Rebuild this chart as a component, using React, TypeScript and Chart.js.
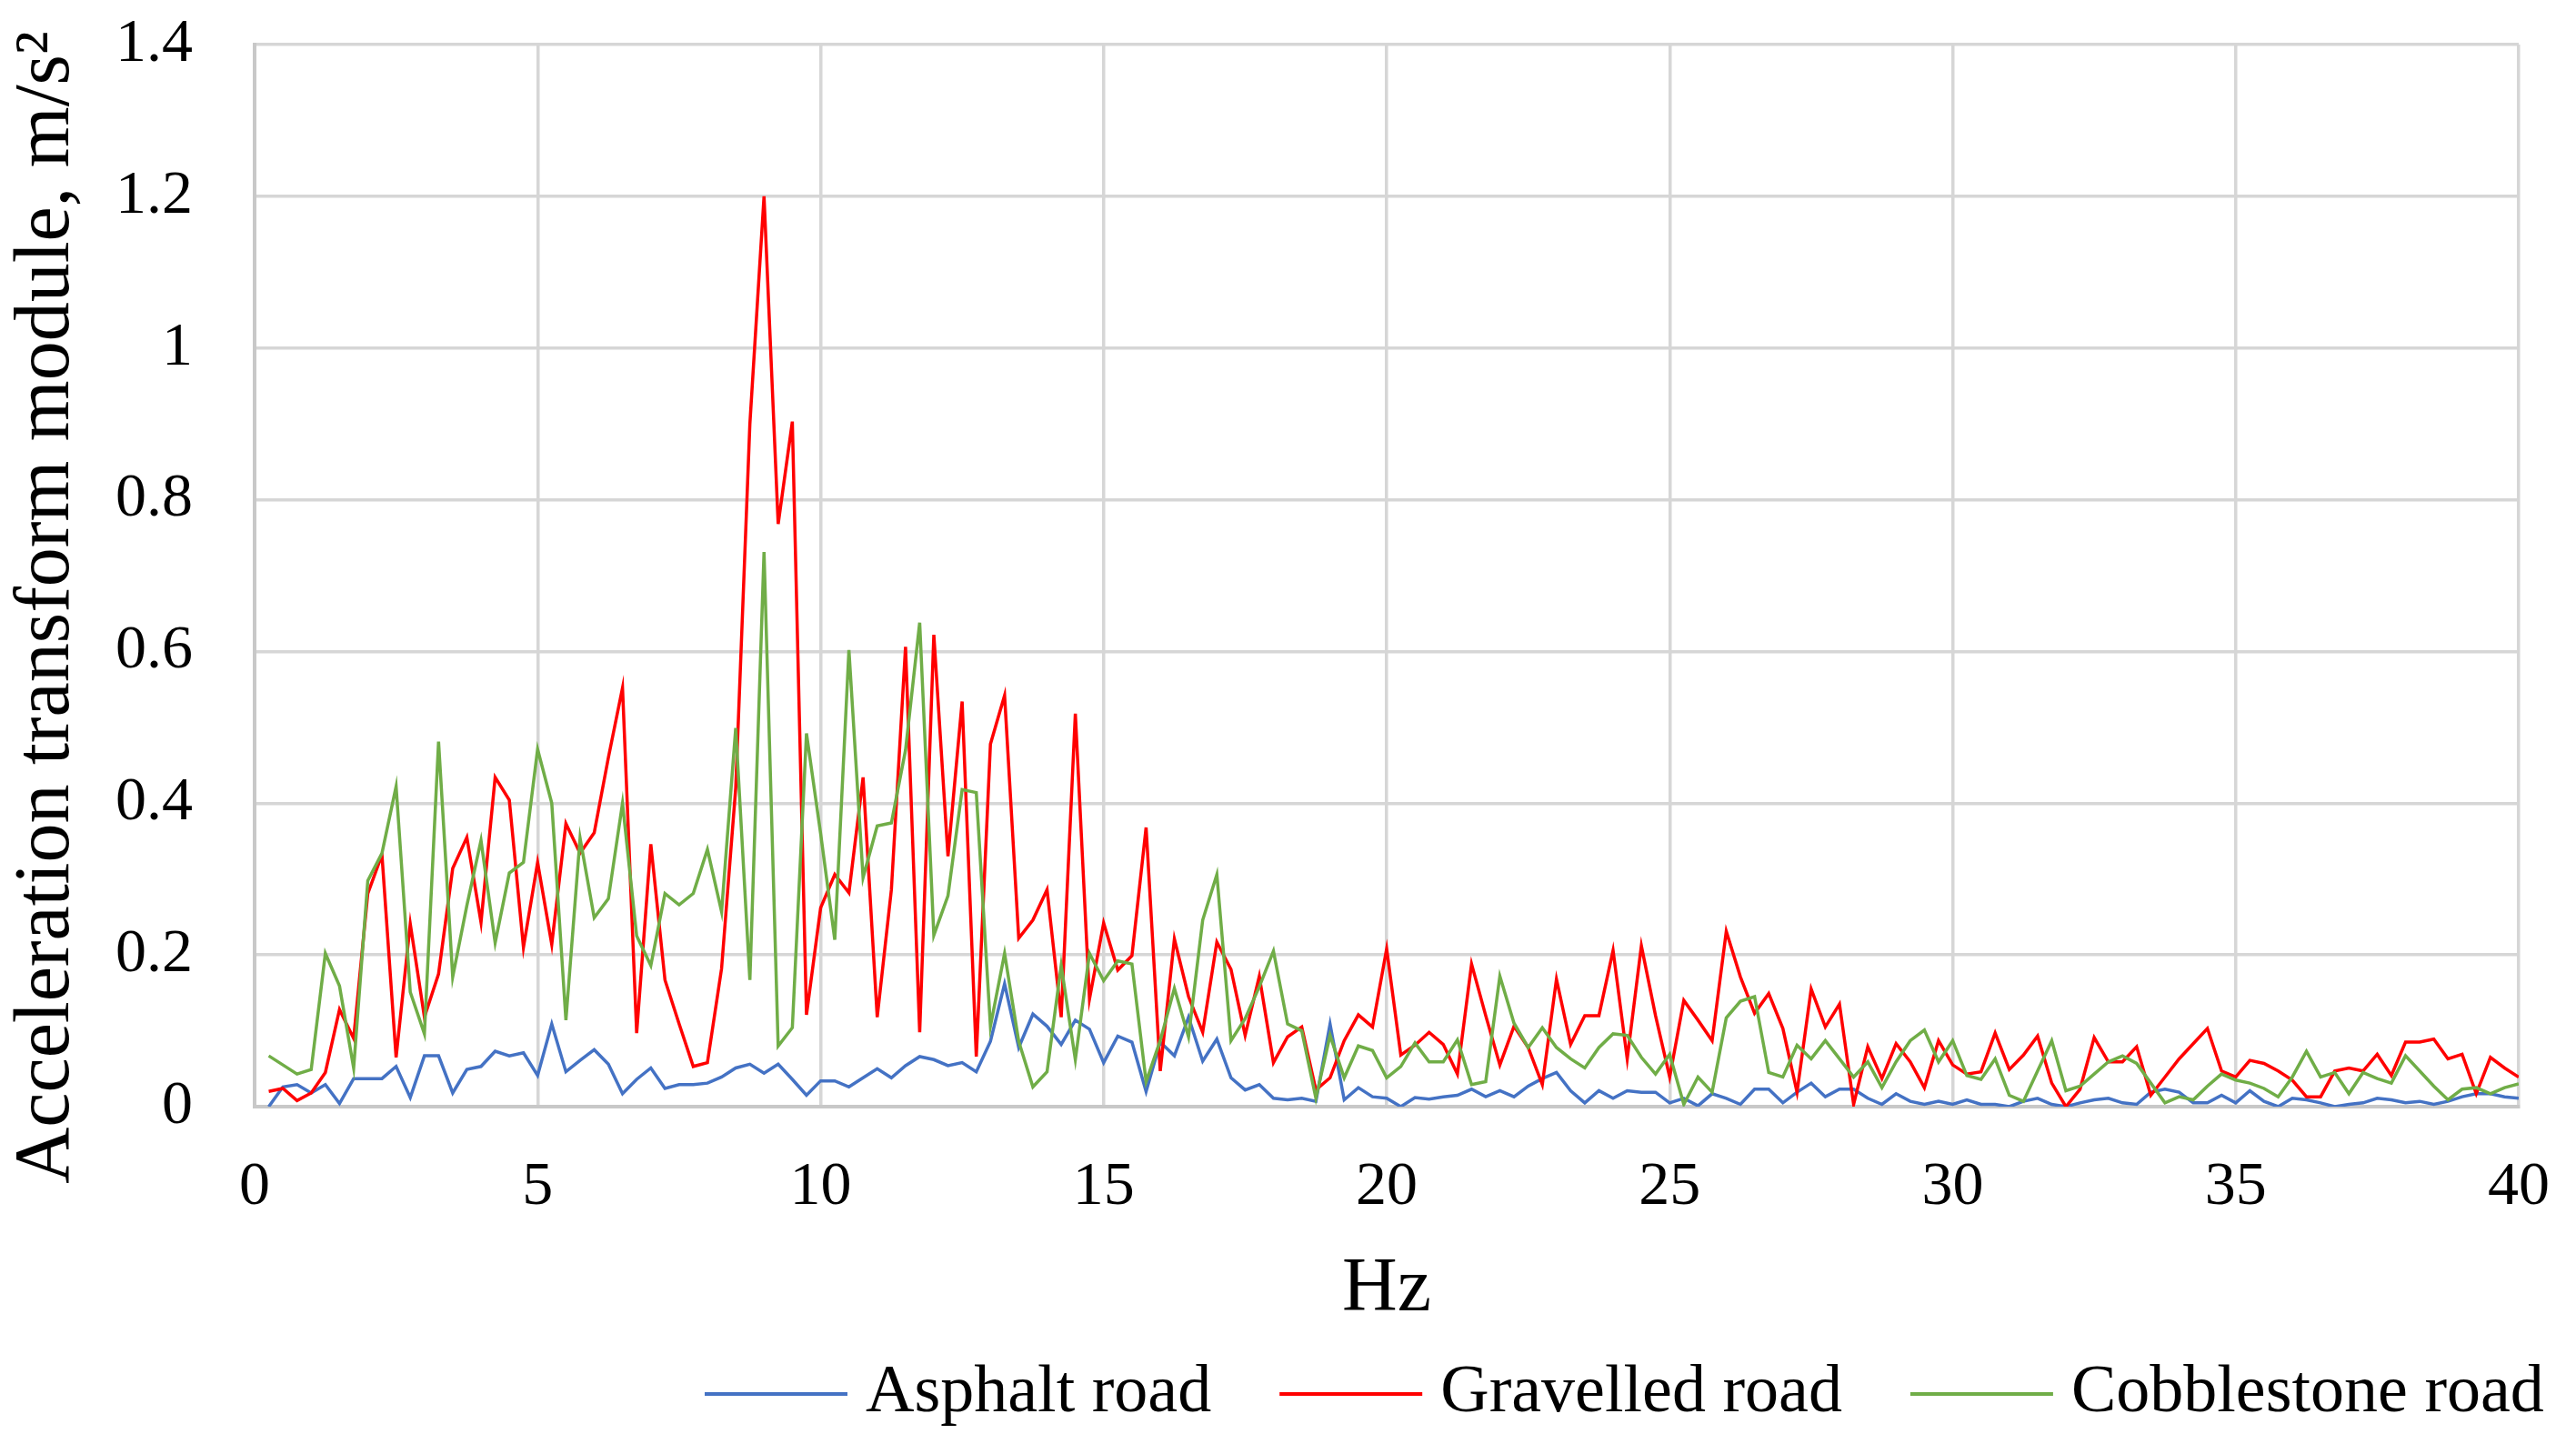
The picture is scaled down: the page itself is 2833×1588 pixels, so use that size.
import React, { useEffect, useRef } from 'react';
import { Chart, registerables } from 'chart.js';

Chart.register(...registerables);

// ---------- data ----------
const FREQUENCIES_HZ = [
  0.25, 0.5, 0.75, 1, 1.25, 1.5, 1.75, 2, 2.25, 2.5, 2.75, 3, 3.25, 3.5, 3.75, 4, 4.25, 4.5, 4.75, 5,
  5.25, 5.5, 5.75, 6, 6.25, 6.5, 6.75, 7, 7.25, 7.5, 7.75, 8, 8.25, 8.5, 8.75, 9, 9.25, 9.5, 9.75, 10,
  10.25, 10.5, 10.75, 11, 11.25, 11.5, 11.75, 12, 12.25, 12.5, 12.75, 13, 13.25, 13.5, 13.75, 14, 14.25, 14.5, 14.75, 15,
  15.25, 15.5, 15.75, 16, 16.25, 16.5, 16.75, 17, 17.25, 17.5, 17.75, 18, 18.25, 18.5, 18.75, 19, 19.25, 19.5, 19.75, 20,
  20.25, 20.5, 20.75, 21, 21.25, 21.5, 21.75, 22, 22.25, 22.5, 22.75, 23, 23.25, 23.5, 23.75, 24, 24.25, 24.5, 24.75, 25,
  25.25, 25.5, 25.75, 26, 26.25, 26.5, 26.75, 27, 27.25, 27.5, 27.75, 28, 28.25, 28.5, 28.75, 29, 29.25, 29.5, 29.75, 30,
  30.25, 30.5, 30.75, 31, 31.25, 31.5, 31.75, 32, 32.25, 32.5, 32.75, 33, 33.25, 33.5, 33.75, 34, 34.25, 34.5, 34.75, 35,
  35.25, 35.5, 35.75, 36, 36.25, 36.5, 36.75, 37, 37.25, 37.5, 37.75, 38, 38.25, 38.5, 38.75, 39, 39.25, 39.5, 39.75, 40,
];

const ASPHALT_ROAD = [
  0.0, 0.026, 0.029, 0.018, 0.029, 0.004, 0.037, 0.037, 0.037, 0.053, 0.012, 0.067, 0.067, 0.018, 0.049, 0.053, 0.073, 0.067, 0.071, 0.041,
  0.109, 0.046, 0.061, 0.075, 0.056, 0.017, 0.036, 0.051, 0.024, 0.029, 0.029, 0.031, 0.039, 0.051, 0.056, 0.044, 0.056, 0.036, 0.015, 0.034,
  0.034, 0.026, 0.038, 0.05, 0.038, 0.054, 0.066, 0.062, 0.054, 0.058, 0.046, 0.086, 0.162, 0.078, 0.122, 0.106, 0.082, 0.114, 0.102, 0.058,
  0.093, 0.085, 0.02, 0.085, 0.067, 0.118, 0.06, 0.089, 0.038, 0.022, 0.029, 0.011, 0.009, 0.011, 0.007, 0.109, 0.009, 0.025, 0.013, 0.011,
  0.0, 0.012, 0.01, 0.013, 0.015, 0.023, 0.013, 0.021, 0.013, 0.027, 0.037, 0.045, 0.021, 0.005, 0.021, 0.011, 0.021, 0.019, 0.019, 0.005,
  0.011, 0.001, 0.017, 0.011, 0.003, 0.023, 0.023, 0.005, 0.019, 0.031, 0.013, 0.023, 0.023, 0.011, 0.003, 0.017, 0.007, 0.003, 0.007, 0.003,
  0.009, 0.003, 0.003, 0.0, 0.007, 0.011, 0.003, 0.0, 0.005, 0.009, 0.011, 0.005, 0.003, 0.019, 0.023, 0.019, 0.005, 0.005, 0.015, 0.005,
  0.021, 0.007, 0.0, 0.011, 0.009, 0.005, 0.0, 0.003, 0.005, 0.011, 0.009, 0.005, 0.007, 0.003, 0.007, 0.013, 0.017, 0.017, 0.013, 0.011,
];

const GRAVELLED_ROAD = [
  0.02, 0.024, 0.008, 0.018, 0.045, 0.128, 0.09, 0.281, 0.332, 0.065, 0.241, 0.118, 0.175, 0.314, 0.355, 0.243, 0.434, 0.404, 0.21, 0.322,
  0.214, 0.373, 0.334, 0.361, 0.46, 0.552, 0.097, 0.346, 0.167, 0.109, 0.053, 0.058, 0.182, 0.42, 0.9, 1.2, 0.768, 0.903, 0.121, 0.262,
  0.306, 0.282, 0.434, 0.118, 0.286, 0.606, 0.098, 0.622, 0.33, 0.534, 0.066, 0.478, 0.542, 0.222, 0.246, 0.286, 0.118, 0.518, 0.142, 0.242,
  0.18, 0.199, 0.368, 0.047, 0.221, 0.145, 0.098, 0.217, 0.181, 0.094, 0.172, 0.058, 0.092, 0.105, 0.022, 0.038, 0.087, 0.121, 0.105, 0.208,
  0.068, 0.081, 0.098, 0.082, 0.043, 0.188, 0.12, 0.055, 0.106, 0.078, 0.029, 0.168, 0.082, 0.12, 0.12, 0.206, 0.063, 0.212, 0.12, 0.039,
  0.14, 0.114, 0.087, 0.231, 0.171, 0.123, 0.149, 0.103, 0.019, 0.155, 0.105, 0.135, 0.003, 0.079, 0.037, 0.083, 0.059, 0.025, 0.087, 0.055,
  0.043, 0.046, 0.097, 0.049, 0.068, 0.093, 0.031, 0.0, 0.023, 0.091, 0.059, 0.059, 0.079, 0.015, 0.039, 0.063, 0.083, 0.103, 0.047, 0.039,
  0.061, 0.057, 0.047, 0.035, 0.013, 0.013, 0.047, 0.051, 0.047, 0.069, 0.041, 0.085, 0.085, 0.089, 0.063, 0.069, 0.017, 0.065, 0.051, 0.039,
];

const COBBLESTONE_ROAD = [
  0.067, 0.055, 0.043, 0.049, 0.202, 0.159, 0.051, 0.298, 0.334, 0.422, 0.151, 0.096, 0.481, 0.171, 0.265, 0.351, 0.216, 0.308, 0.322, 0.471,
  0.4, 0.114, 0.354, 0.249, 0.274, 0.4, 0.225, 0.186, 0.281, 0.266, 0.281, 0.339, 0.257, 0.499, 0.167, 0.731, 0.08, 0.104, 0.492, 0.36,
  0.22, 0.602, 0.302, 0.37, 0.374, 0.47, 0.638, 0.226, 0.278, 0.418, 0.414, 0.106, 0.202, 0.086, 0.026, 0.046, 0.186, 0.062, 0.202, 0.166,
  0.192, 0.188, 0.033, 0.087, 0.156, 0.092, 0.246, 0.306, 0.087, 0.116, 0.158, 0.205, 0.109, 0.1, 0.011, 0.094, 0.038, 0.08, 0.074, 0.038,
  0.053, 0.084, 0.059, 0.059, 0.088, 0.029, 0.033, 0.172, 0.11, 0.078, 0.104, 0.078, 0.063, 0.051, 0.078, 0.096, 0.094, 0.065, 0.043, 0.069,
  0.003, 0.039, 0.019, 0.117, 0.139, 0.145, 0.045, 0.039, 0.081, 0.063, 0.087, 0.063, 0.039, 0.059, 0.025, 0.059, 0.087, 0.101, 0.059, 0.087,
  0.041, 0.036, 0.063, 0.015, 0.007, 0.047, 0.087, 0.021, 0.027, 0.043, 0.059, 0.067, 0.057, 0.031, 0.005, 0.013, 0.009, 0.027, 0.043, 0.035,
  0.031, 0.024, 0.013, 0.039, 0.073, 0.039, 0.045, 0.017, 0.045, 0.037, 0.031, 0.067, 0.047, 0.027, 0.009, 0.023, 0.025, 0.017, 0.025, 0.03,
];

const SERIES_NAMES = ['Asphalt road', 'Gravelled road', 'Cobblestone road'];
const SERIES_COLORS = ['#4472C4', '#FF0000', '#70AD47'];
const X_TITLE = 'Hz';
const Y_TITLE = 'Acceleration transform module, m/s\u00B2';
const X_MIN = 0;
const X_MAX = 40;
const X_STEP = 5;
const Y_MIN = 0;
const Y_MAX = 1.4;
const Y_STEP = 0.2;

// ---------- layout / style ----------
const W = 2833;
const H = 1588;
const FONT = "'Liberation Serif', 'Times New Roman', Times, serif";
const PLOT_LEFT = 280;
const PLOT_RIGHT = 2770;
const PLOT_TOP = 49;
const PLOT_BOTTOM = 1217;
const X_AXIS_HEIGHT = 252;
const GRID_COLOR = '#d6d6d6';

const decorPlugin = {
  id: 'refDecor',
  afterDraw(chart: any) {
    const ctx = chart.ctx as CanvasRenderingContext2D;
    // y-axis title
    ctx.save();
    ctx.font = `86px ${FONT}`;
    ctx.fillStyle = '#000';
    ctx.textAlign = 'center';
    ctx.textBaseline = 'middle';
    ctx.translate(52, 668);
    ctx.rotate(-Math.PI / 2);
    ctx.fillText(Y_TITLE, 0, 0);
    ctx.restore();

    // legend
    ctx.save();
    ctx.font = `74px ${FONT}`;
    ctx.fillStyle = '#000';
    ctx.textAlign = 'left';
    ctx.textBaseline = 'middle';
    const y = 1533;
    const lineLen = 157;
    const textGap = 20;
    const itemGap = 75;
    let x = 775;
    SERIES_NAMES.forEach((name, i) => {
      ctx.strokeStyle = SERIES_COLORS[i];
      ctx.lineWidth = 4;
      ctx.beginPath();
      ctx.moveTo(x, y);
      ctx.lineTo(x + lineLen, y);
      ctx.stroke();
      const tx = x + lineLen + textGap;
      ctx.fillText(name, tx, y);
      x = tx + ctx.measureText(name).width + itemGap;
    });
    ctx.restore();
  },
};

export default function App() {
  const canvasRef = useRef<HTMLCanvasElement | null>(null);

  useEffect(() => {
    const canvas = canvasRef.current;
    if (!canvas) return;
    const seriesValues = [ASPHALT_ROAD, GRAVELLED_ROAD, COBBLESTONE_ROAD];
    const chart = new Chart(canvas, {
      type: 'line',
      data: {
        datasets: seriesValues.map((vals, s) => ({
          label: SERIES_NAMES[s],
          data: vals.map((v, i) => ({ x: FREQUENCIES_HZ[i], y: v })),
          borderColor: SERIES_COLORS[s],
          backgroundColor: SERIES_COLORS[s],
          borderWidth: 3.5,
          pointRadius: 0,
          tension: 0,
          fill: false,
          order: 3 - s,
        })),
      },
      options: {
        animation: false,
        responsive: false,
        maintainAspectRatio: false,
        devicePixelRatio: 1,
        layout: {
          padding: {
            left: 0,
            right: W - PLOT_RIGHT,
            top: PLOT_TOP,
            bottom: H - PLOT_BOTTOM - X_AXIS_HEIGHT,
          },
        },
        plugins: {
          legend: { display: false },
          tooltip: { enabled: false },
        },
        scales: {
          x: {
            type: 'linear',
            min: X_MIN,
            max: X_MAX,
            ticks: {
              stepSize: X_STEP,
              padding: 48,
              color: '#000',
              font: { family: FONT, size: 68 },
              maxRotation: 0,
            },
            grid: { color: GRID_COLOR, lineWidth: 3.5, drawTicks: false },
            border: { color: '#c8c8c8', width: 4 },
            title: {
              display: true,
              text: X_TITLE,
              color: '#000',
              font: { family: FONT, size: 84 },
              padding: { top: 0, bottom: 0 },
            },
            afterFit: (scale: any) => {
              scale.height = X_AXIS_HEIGHT;
              scale.paddingLeft = 0;
              scale.paddingRight = 0;
            },
          },
          y: {
            type: 'linear',
            min: Y_MIN,
            max: Y_MAX,
            ticks: {
              stepSize: Y_STEP,
              padding: 68,
              color: '#000',
              font: { family: FONT, size: 68 },
              callback: (v: any) => String(Number(Number(v).toFixed(1))),
            },
            grid: { color: GRID_COLOR, lineWidth: 3.5, drawTicks: false },
            border: { color: '#c8c8c8', width: 4 },
            afterFit: (scale: any) => {
              scale.width = PLOT_LEFT;
              scale.paddingTop = 0;
              scale.paddingBottom = 0;
            },
          },
        },
      },
      plugins: [decorPlugin],
    });
    return () => chart.destroy();
  }, []);

  return (
    <div style={{ position: 'absolute', left: 0, top: 0, width: W, height: H, background: '#fff' }}>
      <canvas ref={canvasRef} width={W} height={H} style={{ display: 'block', width: W, height: H }} />
    </div>
  );
}
